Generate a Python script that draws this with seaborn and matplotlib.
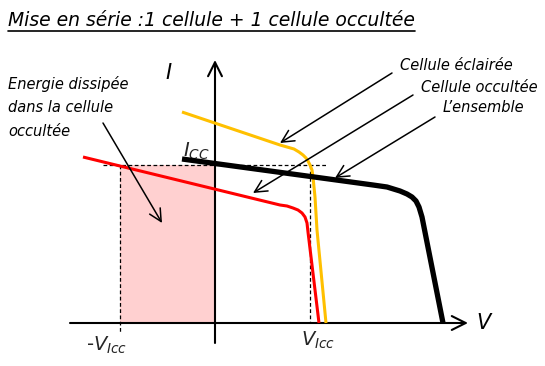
import matplotlib
matplotlib.use("Agg")
import matplotlib.pyplot as plt
import seaborn as sns
import pandas as pd
from matplotlib.lines import Line2D

sns.set_style("white")
plt.rcParams['font.family'] = ['DejaVu Sans']
plt.rcParams['mathtext.fontset'] = 'dejavusans'

# Data (V, I) in arbitrary units
yellow_v = [-33, 65, 72, 79, 84, 88, 91, 93, 95, 97, 98, 100, 102, 111]
yellow_i = [211, 178, 176, 174, 171, 168, 165, 162, 158, 153, 146, 126, 93, 0]
red_v = [-132, 65, 72, 78, 83, 87, 90, 92, 93, 104]
red_i = [166, 118, 117, 115, 113, 110, 106, 100, 91, 0]
black_v = [-33, 158, 172, 185, 192, 197, 201, 204, 207, 228]
black_i = [164, 138, 136, 132, 129, 126, 122, 116, 106, 0]
icc = 158
vicc = 95

title = "Mise en série :1 cellule + 1 cellule occultée"
label_eclairee = "Cellule éclairée"
label_occultee = "Cellule occultée"
label_ensemble = "L’ensemble"
label_energie = "Energie dissipée\ndans la cellule\noccultée"

fig = plt.figure(figsize=(5.45, 3.66), dpi=100)
ax = fig.add_axes([0, 0, 1, 1])

# shaded energy area
ax.fill_between([-vicc, 0], [0, 0], [icc, icc], color='#FFD0D0', lw=0, zorder=1)

# dashed guides
ax.plot([-112, 112], [icc, icc], ls=(0, (3, 2)), color='black', lw=0.9, zorder=2)
ax.plot([-vicc, -vicc], [icc, -10], ls=(0, (3, 2)), color='black', lw=0.9, zorder=2)
ax.plot([vicc, vicc], [icc, 0], ls=(0, (3, 2)), color='black', lw=0.9, zorder=2)

# axes with arrows
ax.annotate('', xy=(253, 0), xytext=(-145, 0),
            arrowprops=dict(arrowstyle='->', lw=1.5, color='black', mutation_scale=25,
                            shrinkA=0, shrinkB=0), zorder=3)
ax.annotate('', xy=(0, 263), xytext=(0, -20),
            arrowprops=dict(arrowstyle='->', lw=1.5, color='black', mutation_scale=25,
                            shrinkA=0, shrinkB=0), zorder=3)

# curves
df_y = pd.DataFrame({'V': yellow_v, 'I': yellow_i})
df_r = pd.DataFrame({'V': red_v, 'I': red_i})
df_b = pd.DataFrame({'V': black_v, 'I': black_i})
lkw = dict(solid_joinstyle='round', solid_capstyle='butt')
sns.lineplot(data=df_y, x='V', y='I', sort=False, color='#FFC000', lw=2.2, ax=ax, zorder=4, **lkw)
sns.lineplot(data=df_r, x='V', y='I', sort=False, color='#FF0000', lw=2.2, ax=ax, zorder=4, **lkw)
sns.lineplot(data=df_b, x='V', y='I', sort=False, color='black', lw=3.8, ax=ax, zorder=5, **lkw)
ax.set_xlim(-215, 330)
ax.set_ylim(-43, 323)
ax.axis('off')

# labels
tkw = dict(style='italic', color='black')
ax.text(-47, 250, 'I', fontsize=15, ha='center', va='center', **tkw)
ax.text(268, 0, 'V', fontsize=15, ha='center', va='center', **tkw)
ax.text(-19, 172, r'$I_{CC}$', fontsize=14, ha='center', va='center')
ax.text(-108, -22, r'-$V_{Icc}$', fontsize=14, ha='center', va='center')
ax.text(103, -17, r'$V_{Icc}$', fontsize=14, ha='center', va='center')

fs = 10.5
ax.text(185, 258, label_eclairee, fontsize=fs, ha='left', va='center', **tkw)
ax.text(206, 236, label_occultee, fontsize=fs, ha='left', va='center', **tkw)
ax.text(228, 215, label_ensemble, fontsize=fs, ha='left', va='center', **tkw)
ax.text(-207, 247, label_energie, fontsize=fs, ha='left', va='top', linespacing=1.7, **tkw)

akw = dict(arrowstyle='->', lw=1.1, color='black', mutation_scale=22, shrinkA=0, shrinkB=0)
ax.annotate('', xy=(65, 180), xytext=(177, 250), arrowprops=akw, zorder=6)
ax.annotate('', xy=(38, 130), xytext=(198, 228), arrowprops=akw, zorder=6)
ax.annotate('', xy=(120, 145), xytext=(220, 206), arrowprops=akw, zorder=6)
ax.annotate('', xy=(-53, 100), xytext=(-112, 200), arrowprops=akw, zorder=6)

# title with underline
t = fig.text(8 / 545, 1 - 26 / 366, title, fontsize=13.5, ha='left', va='baseline', **tkw)
fig.canvas.draw()
bb = t.get_window_extent()
x0, x1 = bb.x0 / fig.bbox.width, bb.x1 / fig.bbox.width
yl = 1 - 31 / 366
fig.add_artist(Line2D([x0, x1], [yl, yl], color='black', lw=1.2, transform=fig.transFigure))

fig.savefig('out.png', dpi=100)
